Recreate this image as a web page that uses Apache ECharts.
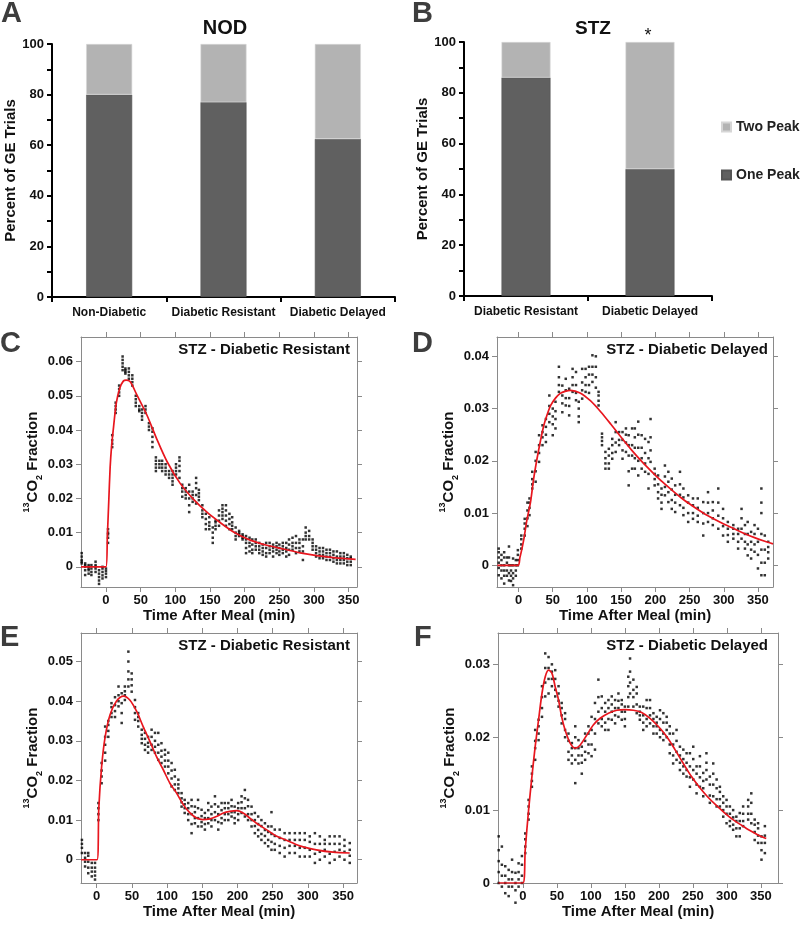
<!DOCTYPE html>
<html><head><meta charset="utf-8">
<script src="https://cdn.jsdelivr.net/npm/echarts@6/dist/echarts.min.js"></script>
<style>html,body{margin:0;padding:0;background:#fff}#c{width:800px;height:926px}</style>
</head><body><div id="c"></div>
<script>
const FONT = '"Liberation Sans", Arial, Helvetica, sans-serif';

// ---- Panels A / B : percent of GE trials ----
const nodCategories = ['Non-Diabetic', 'Diabetic Resistant', 'Diabetic Delayed'];
const nodOnePeak = [80, 77, 62.5];
const nodTwoPeak = [20, 23, 37.5];
const stzCategories = ['Diabetic Resistant', 'Diabetic Delayed'];
const stzOnePeak = [86, 50];
const stzTwoPeak = [14, 50];

// ---- tick values ----
const timeTicks = [0, 50, 100, 150, 200, 250, 300, 350];
const cTicks = [0, 0.01, 0.02, 0.03, 0.04, 0.05, 0.06];
const dTicks = [0, 0.01, 0.02, 0.03, 0.04];
const eTicks = [0, 0.01, 0.02, 0.03, 0.04, 0.05];
const fTicks = [0, 0.01, 0.02, 0.03];

// ---- scatter columns: [time (min), 13CO2 fraction values x1e-3 ...] ----
const cCols = [
 [-35,1,2,3,4,1.5],[-30,-2.4,-1,0,0.5,1],[-25,-2,-1,0,0.5,-0.5],[-21,-2.4,-1.5,-0.5,0.5],[-15,-1.5,-0.5,0.5,1.5,0],
 [-10,-5,-4,-3,-2,-1],[-5,-3.4,-2.5,-1.5,-0.5,0],[0,-3,-2,-1.2,-0.5],[3,7,8.5,9.5,10,11],[9,35,36,37,38.5],
 [14,45,46,47,48],[19,50,51,52,53],[24,57.5,58.5,59.5,60.5,61.5],[28,56.5,57,57.5,58],[33,55,56,57,58],
 [38,53,54,55,56],[43,47,48,49,50],[48,45.5,46,47],[52,43,44,45,46],[57,45,46,47],[62,40,41,42],
 [67,35,36.5,38,39.5,40.5],[72,28,29,30,31,32],[77,29,30,31],[81,28,29,30,31],[86,27,28,29,30],[91,26,27,28],
 [96,24,25,26,27,28],[101,27,28,29,30],[106,26,28,29.5,31,32],[110,20.5,22,23,24],[115,20,21,22,23],
 [120,16,18,20,22,24],[125,19,20,21,22],[130,18.5,21,23,24.5,26],[134,19.5,20.5,21.5,22.5],[139,14.5,15.5,16.5,18],
 [144,11,12.5,14,15.5],[149,11,12,13,14.5],[154,7,8.5,10,11.5],[158,11,12,13,13.5],[163,12,13.5,15,16.5],
 [168,14,15,16,17,18],[173,12,13.5,15,16.5,18],[178,11,12.5,14,15.5],[182,11,12,13,14.5],[187,8,9,10,11.5],
 [192,9,9.5,10,10.5],[197,8,8.5,9,9.5],[202,4,5.5,7,8,9],[207,4.5,6,7,8.5],[211,4,5,6.5,8],[216,5,6,7,8],
 [221,4,5,6,7],[226,3.5,4.5,5.5,6.5],[231,3,4,5.5,7],[236,4,5,6,7],[241,3,4.5,5.5,6.5],[246,4,5,6,7],
 [250,3.5,4.5,5.5,6.5],[255,4,5,6,7],[260,3,4.5,5.5,7],[264,3.5,5,6.5,8],[269,5,6,7,8.5],[274,4,5.5,7,9],
 [279,4.5,5.5,7,8],[284,2,4.5,6,8],[288,8,9,10,11.5],[293,8,9,10.5],[298,5,6,7,8],[303,3,4,5,6],
 [308,2.5,3.5,4.5,5.5],[313,2.5,3.5,4.5,5.5],[318,2,3,4,5],[323,2,3,4,5],[328,1.5,2.5,3.5,4.5],
 [333,1,2,3,4.5],[338,1,2,3,4],[343,1,2,3,4],[348,0.5,1.5,2.5,3.5],[353,0.5,1.5,2.5,3]
];
const cFitT = [-36,0,2,4,6,8,11,15,20,25,29,35,44,59,73,88,107,126,146,165,184,208,232,256,280,304,328,352,360];
const cFitY = [0,0,9,19,29,35,41,48,52.3,54.3,54.6,54.1,50.5,44.4,37.5,30.8,24.4,19.8,15.9,12.9,10.2,7.8,6.3,5.2,4.1,3.3,2.7,2.3,2.2];

const dCols = [
 [-29,-1.9,-0.5,0.5,1.5,2.5,3.2],[-25,-2.5,-1,0,1,2],[-21,-3.5,-2,-1,0,1.5,2.5],[-17,-2,-1,0.5,1.5],
 [-14,-2.9,-1.5,0,1.5,3.6],[-11,-3,-2,-1,0],[-8,-3.8,-2.5,-1.5,0,1.3],[-4,-2,-1,0,1],[-1,0,1,2,2.9],
 [4,3.2,4,5,5.7],[9,5.7,7,8,8.9],[13,7.5,9,10.5,12],[16,9.6,11,12,12.8],[20,14.7,15.5,16.5,17.9],
 [25,16,18,20,21.7],[30,19.8,21.5,23,24.9],[35,23,24.5,25.5,26.8],[40,23.6,25,26.5,28],[45,27.4,29,30.5,32.5],
 [50,24.9,27,28.5,30],[54,26.2,28,29.5,31.3],[59,33.2,34.5,36,38],[64,29.3,31,32.5,34.4],[69,30.6,32,33.5,35.7],
 [74,28.7,30.5,32,33.8],[79,33.2,34.5,36,37.6],[84,31.6,33,34.5,37],[88,27.4,28.5,30,31.3],[93,31.9,33.5,35,37.6],
 [98,33.2,34.5,36,37.6],[103,33,34.5,36.5,38],[108,35.1,36.5,38,40.2],[113,34,36,38,40],[117,30.6,31.5,32.5,33.2],
 [122,23,23.8,24.5,25.2],[127,18.5,19.5,20.5,21.7],[132,18.5,19.5,21,22.3],[137,20.4,21.5,23,24.2],
 [142,21.7,23.5,25.5,27.4],[147,23,24,25.5],[152,20.4,22,24,25.5],[157,21.7,23.5,25,26.2],[161,15.3,18,21,23,24.9],
 [166,18.5,21,23,26.2],[170,18.5,20.5,22.5,24.5,26.2],[175,17.2,20,22.5,25,27.5],[180,18.5,20.5,22.5,24.9],
 [185,17.9,19.5,21.5,24.2],[190,14.7,17.5,20.5,23.6],[193,19.8,22,24.5,28],[199,15.3,16.5,17.5,18.5],
 [204,12.8,14,15.5,17.2],[209,10.8,12,13.5,14.7],[214,13.4,15,17,19.1],[219,12.1,14,16,17.9],[224,10.8,12.5,14.5,16.6],
 [229,10.2,12,13.5,15.3],[236,11.5,13.5,15.5,17.9],[241,9.6,11,13,14.7],[248,8.3,10,12,13.4],[255,8.9,10,11.5,12.8],
 [262,8.3,9.5,11,12.8],[270,5.7,8,10,12.1],[277,8.3,10,12,14],[284,7.7,9,10.5,12.1],[292,7,9.5,12,14.7],
 [299,5.7,7.5,9,10.8],[306,4.5,5.8,7,8.3],[314,5.1,6,7,7.7],[321,3.2,4.5,6,7],[326,5.1,7,9,10.8],[331,3.2,4.5,6,7.7],
 [335,1.9,4,6,8.3],[340,1.3,3,4.5,6.4],[345,2.6,4,6,7.7],[350,-0.6,2,4.5,7],[355,-1.9,0.5,3,6,10,12,14.7],
 [360,-1.9,0.5,3,5.7],[365,1.3,2.5,3.5,4.5]
];
const dFitT = [-31,-1,2,5,8,12,17.5,22,27,32,37,42,47,54,61,68,76,90,105,120,135,150,165,180,195,210,225,240,255,270,285,300,315,330,345,360,372];
const dFitY = [0,0,1.5,3.2,5.2,8.5,12.1,16.5,20.4,23.8,26.8,28.9,30.6,32,32.9,33.3,33.5,33,31.5,29.4,27,24.5,22.1,19.9,17.9,16,14.3,12.7,11.3,10,8.9,7.9,7,6.1,5.3,4.6,4.1];

const eCols = [
 [-21,1.7,3,4,5],[-16.5,-1.7,-0.5,0.5,1.7],[-12,-3.4,-2,-0.5,1,1.7],[-7,-4.2,-3,-2,-0.8],[-2.4,-5,-4,-3,-2,-0.8],
 [2.4,10,11.5,13,14.3],[7,19.3,21,22.5,24.4],[12,25,27,29,31,33.6],[16.5,31,32.5,34,35],[21,36,37,38.5,39.5],
 [26,36,37.5,39,41],[31,38.7,40,41.5,43.7],[35.5,34.5,37,39.5,42],[40,40.3,41.5,42.5,43.7],[45,43.7,45.5,47.5,50,52.5],
 [49.7,42.4,44,45.5,47],[54.4,35.3,37,38.5,40.3],[59,33.6,35,36,37],[64,29.4,30.5,31.5,32.8],[68.6,27.7,29,30.5,32],
 [73,27,28.5,29.5,31],[78,27.7,29,31,32.8],[82.8,27,28.5,30,32],[87.5,25.2,27,29,32],[92,24.4,26,27.5,29.4],
 [97,23.5,25,26.5,27.7],[101.7,21.8,23.5,25,27],[106.4,18.5,20.5,22.5,24.4],[111,17.6,19,21,22.7],[116,16.8,18,19,20.2],
 [120.6,13.4,14.5,15.5,16.8],[125,11.8,13,14,15.1],[130,10,11.5,13,14.3],[134.8,6.7,9,11.5,13.5,15.1],
 [139.5,9.2,10.5,12,13.4],[144,8.4,10.5,13,15.1],[149,8.4,9.5,11,12.6],[153.7,7.6,9,10.5,11.8],[158.5,9.2,10.5,12.5,14.3],
 [163,8.4,10,11.5,13.4],[168,10,12,14,16],[172.7,7.6,9.5,11.5,13.4],[177.4,9.2,10.5,12.5,14.3],[182,10,11.5,13,14.3],
 [187,10,11.5,13,14.3],[191.6,10.9,12,13.5,15.1],[196,9.2,10.5,12,13.4],[201,10,11.5,13,14.3],[205.8,11.8,13,14.5,16],
 [210.5,10.9,13,15.5,17.6],[215,10,11.5,13.5,15.1],[220,8.4,10,11.5,13.4],[224.7,6.7,8.5,10,11.8],[229.4,5.9,7.5,9,10.9],
 [234,5,6.5,8.5,10],[239,4.2,6,7.5,9.2],[243.6,3.4,5,7,8.4],[248.3,2.5,4.5,6.5,8.4,12],[253,2.5,4,6,7.6],
 [260,1.7,3.5,5.5,7.6],[267,0.8,3,5,6.7],[274,1.7,3.5,5,6.7],[281.5,1.7,3.5,5,6.7],[288.5,0.8,3,5,6.7],
 [295.6,0.8,3,5,6.7],[302.7,0.8,2.5,4.5,5.9],[310,-0.8,1.5,4,6.7],[317,0,2,4,5.9],[324,0.8,2.5,4,5],
 [331,-0.8,1.5,4,5.9],[338,0,2,4,5.9],[345,0.8,2.5,4,5.9],[352,0,2,3.5,5],[359.5,-0.8,1,2.5,4.2]
];
const eFitT = [-22,0.5,3,7,12,19,28,38,47,56.8,66,75.7,85,94.6,104,113.5,123,132.5,142,151,161,170,180,189,198.7,208,217.6,227,241,255,269.6,288.5,312,336,359.5];
const eFitY = [0,0,13,23.5,31,36.6,40,41.3,40.3,37.4,33.6,29.8,26,22.7,19.3,16.8,13.9,11.8,10.5,10.1,10.3,10.9,11.8,12.2,12.4,11.8,10.5,9.2,7.6,6,4.9,3.5,2.5,1.9,1.7];

const fCols = [
 [-35.7,0,1.5,3,4.5,6.4],[-31,-0.5,1,2.5,5],[-26,-1.4,0,1,2.3],[-21,-1.8,-0.5,0.5,1.8],[-16,-0.5,0.5,1.5,3.2],
 [-11,-2.7,-1,0,1.4],[-6.4,-0.5,0.5,1.5,2.7],[-1.5,0,1,2.5,3.7],[3.4,4.1,5,6,6.8],[8.3,8.7,9.5,10.5,11.4],
 [13.2,13.2,14,15,16],[18,16.9,18.5,19.5,21],[23,19.6,20.5,21.5,22.4],[28,22.8,24,25.5,27],[32.8,25.6,27.5,29.5,31.5],
 [37.7,26,28,29.5,31],[42.6,27,28,29,30],[47.5,25.6,26.5,28,29.2],[52.4,24.2,25,26,27],[57,21.9,23,24,24.7],
 [62,20,21,22.5,23.3],[67,16.9,18,19.5,20.5],[72,16.4,17.5,18.5,19.2],[77,13.7,16.9,18.5,20,21.5],[81.7,16.4,17.5,18.5,19.6],
 [86.6,15,16.5,17.5,18.7],[91.5,16.9,18,19.5,20.5],[96.4,17.8,19,20.5,21.5],[101,17.4,19,21,22.8],[106,18.3,20.5,22.5,24.7],
 [111,21.9,23.5,25.5,27.9],[116,21.5,22.5,24,25.6],[121,21,22,23.5,24.7],[125.8,21,22.5,24,25.1],[130.7,22.4,23.5,24.5,25.6],
 [135.6,21.9,23,24,25.1],[140.5,22.8,24,25,26],[145.4,22.4,23.5,24.5,25.1],[150,21.5,22.5,23.5,24.2],[155,24.2,25.5,27,28.3],
 [157.6,26,27.5,29,30.8],[162.5,24.2,25.5,26.5,27.9],[167.4,23.3,24.5,26,26.9],[172,22.4,23,23.5,24.2],[177,21,22,23,24.2],
 [182,21.5,22.5,24,25.1],[187,21.9,23,24,25.1],[192,20.5,21.5,22.5,23.3],[196.8,20.5,21.5,22,22.8],[201.7,20,21,22.5,23.7],
 [206.6,19.6,20.5,22,23.3],[211.5,20,21,22,22.8],[216,17.8,19,20.5,21.5],[221,16.4,17.5,19,20.5],[226,16.9,18,19.5,21],
 [231,15.5,16.5,17.5,18.7],[236,15,16,17,18.3],[240.8,14.6,15.5,16.5,17.8],[245.7,13.2,14.5,16,17.8],[250.6,14.2,15.5,17,18.7],
 [255.5,12.3,13.5,15,16],[260.4,13.2,14.5,16,17.4],[265.3,11.9,13,14,15.1],[270,14.2,15.5,16.5,17.8],[275,11,12,13.5,14.6],
 [280,11.9,13.5,15,16.4],[285,10.5,11.5,13,14.2],[289.8,10.5,11.5,12.5,13.2],[294.7,9.1,10,11,11.9],[299.6,8.2,9.5,10.5,11.4],
 [304.5,7.8,8.5,9.5,10.5],[309.3,7.3,8,9,10],[314,6.4,7.5,8.5,9.1],[319,6.4,7.5,8.5,9.6],[324,7.8,8.5,9.5,10.5],
 [331.4,8.7,9.5,10.5,11.4],[336,8.2,9.5,11,12.3],[341,5.9,7,8,8.7],[346,5.5,6.5,7.5,8.2],[351,3.2,4.5,5.5,6.4],
 [356,4.1,5.5,6.5,7.8]
];
const fFitT = [-36,0,3.4,8.3,13.2,18,23,28,32.8,37.7,42.6,47.5,52.4,57,62,69.5,77,84,94,103.8,113.6,125.8,138,150,162.5,174.7,187,199,211.5,223.7,236,248,260,272,285,297,309,322,334,346,358];
const fFitY = [0,0,4.6,10,14.6,18.7,22.4,26,28.3,29.2,28.8,26.9,25.1,22.8,21,19.2,18.5,18.9,20.3,21.7,22.6,23.3,23.7,23.8,23.7,23.4,22.6,21.5,20.1,18.3,16.4,14.6,13.1,11.8,10.6,9.6,8.7,7.9,7.2,6.6,6.1];

// ---------------- build option ----------------
const BLACK = '#111';
const FRAME = '#8a8a8a';
const grids = [
  {left: 52, top: 44, width: 343, height: 253},
  {left: 464, top: 42, width: 248, height: 254},
  {left: 81, top: 337, width: 276, height: 250},
  {left: 497, top: 337, width: 276, height: 250},
  {left: 81, top: 633, width: 276, height: 250},
  {left: 498, top: 633, width: 280, height: 250}
];
const xAxes = [];
const yAxes = [];
const series = [];

function barPanel(gi, cats, one, two, barW, nameGap) {
  xAxes.push({
    type: 'category', gridIndex: gi, data: cats,
    axisLine: {show: true, lineStyle: {color: '#000', width: 2}},
    axisTick: {show: true, length: 5, lineStyle: {color: '#000', width: 2}},
    axisLabel: {interval: 0, margin: 10, fontFamily: FONT, fontWeight: 'bold', fontSize: 12, color: BLACK}
  });
  yAxes.push({
    type: 'value', gridIndex: gi, min: 0, max: 100, interval: 20,
    axisLine: {show: true, lineStyle: {color: '#000', width: 2}},
    axisTick: {show: true, length: 5, lineStyle: {color: '#000', width: 2}},
    minorTick: {show: true, splitNumber: 2, length: 5, lineStyle: {color: '#000', width: 2}},
    splitLine: {show: false}, minorSplitLine: {show: false},
    axisLabel: {margin: 8, fontFamily: FONT, fontWeight: 'bold', fontSize: 13, color: BLACK},
    name: 'Percent of GE Trials', nameLocation: 'middle', nameRotate: 90, nameGap: nameGap,
    nameTextStyle: {fontFamily: FONT, fontWeight: 'bold', fontSize: 15, color: BLACK}
  });
  const xi = xAxes.length - 1, yi = yAxes.length - 1;
  series.push({type: 'bar', name: 'One Peak', stack: 's' + gi, xAxisIndex: xi, yAxisIndex: yi, data: one,
    barWidth: barW, itemStyle: {color: '#606060', borderColor: '#555', borderWidth: 0.6}});
  series.push({type: 'bar', name: 'Two Peak', stack: 's' + gi, xAxisIndex: xi, yAxisIndex: yi, data: two,
    barWidth: barW, itemStyle: {color: '#b3b3b3', borderColor: '#d6d6d6', borderWidth: 0.6}});
}

function scatterPanel(gi, xr, yr, yTicks, cols, fitT, fitY, nameGap, clip) {
  const base = {type: 'value', gridIndex: gi, splitLine: {show: false}};
  const tickStyle = {lineStyle: {color: FRAME, width: 1}};
  xAxes.push(Object.assign({}, base, {
    position: 'bottom', min: xr[0], max: xr[1],
    axisLine: {show: true, onZero: false, lineStyle: {color: FRAME, width: 1}},
    axisTick: Object.assign({show: true, length: 5, customValues: timeTicks}, tickStyle),
    axisLabel: {customValues: timeTicks, margin: 7, fontFamily: FONT, fontWeight: 'bold', fontSize: 13, color: BLACK},
    name: 'Time After Meal (min)', nameLocation: 'middle', nameGap: 21,
    nameTextStyle: {fontFamily: FONT, fontWeight: 'bold', fontSize: 15, color: BLACK}
  }));
  const xi = xAxes.length - 1;
  xAxes.push(Object.assign({}, base, {
    position: 'top', min: xr[0], max: xr[1],
    axisLine: {show: true, onZero: false, lineStyle: {color: FRAME, width: 1}},
    axisTick: Object.assign({show: true, length: 5, customValues: timeTicks}, tickStyle),
    axisLabel: {show: false}
  }));
  const fmt = v => (Math.abs(v) < 1e-9 ? '0' : v.toFixed(2));
  yAxes.push(Object.assign({}, base, {
    position: 'left', min: yr[0], max: yr[1],
    axisLine: {show: true, onZero: false, lineStyle: {color: FRAME, width: 1}},
    axisTick: Object.assign({show: true, length: 5, customValues: yTicks}, tickStyle),
    axisLabel: {customValues: yTicks, formatter: fmt, margin: 8, fontFamily: FONT, fontWeight: 'bold', fontSize: 13, color: BLACK},
    name: '{sup|13}{m|CO}{sub|2}{m| Fraction}', nameLocation: 'middle', nameRotate: 90, nameGap: nameGap,
    nameTextStyle: {
      rich: {
        m: {fontFamily: FONT, fontWeight: 'bold', fontSize: 15, color: BLACK, lineHeight: 22},
        sup: {fontFamily: FONT, fontWeight: 'bold', fontSize: 9, color: BLACK, lineHeight: 10, verticalAlign: 'top'},
        sub: {fontFamily: FONT, fontWeight: 'bold', fontSize: 9, color: BLACK, lineHeight: 10, verticalAlign: 'bottom'}
      }
    }
  }));
  const yi = yAxes.length - 1;
  yAxes.push(Object.assign({}, base, {
    position: 'right', min: yr[0], max: yr[1],
    axisLine: {show: true, onZero: false, lineStyle: {color: FRAME, width: 1}},
    axisTick: Object.assign({show: true, length: 5, customValues: yTicks}, tickStyle),
    axisLabel: {show: false}
  }));
  const pts = [];
  cols.forEach(c => c.slice(1).forEach(v => pts.push([c[0], v / 1000])));
  series.push({type: 'scatter', xAxisIndex: xi, yAxisIndex: yi, data: pts, symbol: 'rect', symbolSize: 2.5,
    itemStyle: {color: '#000'}, clip: clip, silent: true, z: 2});
  series.push({type: 'line', xAxisIndex: xi, yAxisIndex: yi, data: fitT.map((t, i) => [t, fitY[i] / 1000]),
    showSymbol: false, smooth: 0.3, lineStyle: {color: '#e8161e', width: 1.7}, silent: true, z: 3});
}

barPanel(0, nodCategories, nodOnePeak, nodTwoPeak, 46, 33);
barPanel(1, stzCategories, stzOnePeak, stzTwoPeak, 49, 31);
scatterPanel(2, [-36, 362], [-0.0059, 0.0672], cTicks, cCols, cFitT, cFitY, 33, true);
scatterPanel(3, [-31.5, 372], [-0.00415, 0.0437], dTicks, dCols, dFitT, dFitY, 32, true);
scatterPanel(4, [-22.3, 369.8], [-0.00587, 0.0572], eTicks, eCols, eFitT, eFitY, 33, true);
scatterPanel(5, [-36.7, 375.3], [0, 0.0343], fTicks, fCols, fFitT, fFitY, 32, false);

function txt(x, y, text, font, align, color) {
  return {type: 'text', x: x, y: y, silent: true, z: 10,
    style: {text: text, font: font, fill: color || BLACK, align: align, textAlign: align,
      verticalAlign: 'middle', textVerticalAlign: 'middle'}};
}
const letterFont = 'bold 29px ' + FONT;
const panelFont = 'bold 15px ' + FONT;
const graphics = [
  txt(1, 14, 'A', letterFont, 'left', '#3d3d3d'),
  txt(412, 14, 'B', letterFont, 'left', '#3d3d3d'),
  txt(0, 344, 'C', letterFont, 'left', '#3d3d3d'),
  txt(412, 344, 'D', letterFont, 'left', '#3d3d3d'),
  txt(0, 638, 'E', letterFont, 'left', '#3d3d3d'),
  txt(414, 638, 'F', letterFont, 'left', '#3d3d3d'),
  txt(225, 28, 'NOD', 'bold 20px ' + FONT, 'center'),
  txt(593, 29, 'STZ', 'bold 19px ' + FONT, 'center'),
  txt(648, 36, '*', '18px ' + FONT, 'center'),
  txt(350, 350, 'STZ - Diabetic Resistant', panelFont, 'right'),
  txt(768, 350, 'STZ - Diabetic Delayed', panelFont, 'right'),
  txt(350, 646, 'STZ - Diabetic Resistant', panelFont, 'right'),
  txt(768, 646, 'STZ - Diabetic Delayed', panelFont, 'right')
];

const chart = echarts.init(document.getElementById('c'), null, {renderer: 'canvas'});
chart.setOption({
  animation: false,
  backgroundColor: '#fff',
  grid: grids,
  xAxis: xAxes,
  yAxis: yAxes,
  series: series,
  legend: {
    data: ['Two Peak', 'One Peak'], orient: 'vertical', left: 716, top: 115, itemGap: 34,
    itemWidth: 9, itemHeight: 9, icon: 'rect', selectedMode: false,
    textStyle: {fontFamily: FONT, fontWeight: 'bold', fontSize: 14, color: '#222'}
  },
  graphic: graphics
});
</script>
</body></html>
